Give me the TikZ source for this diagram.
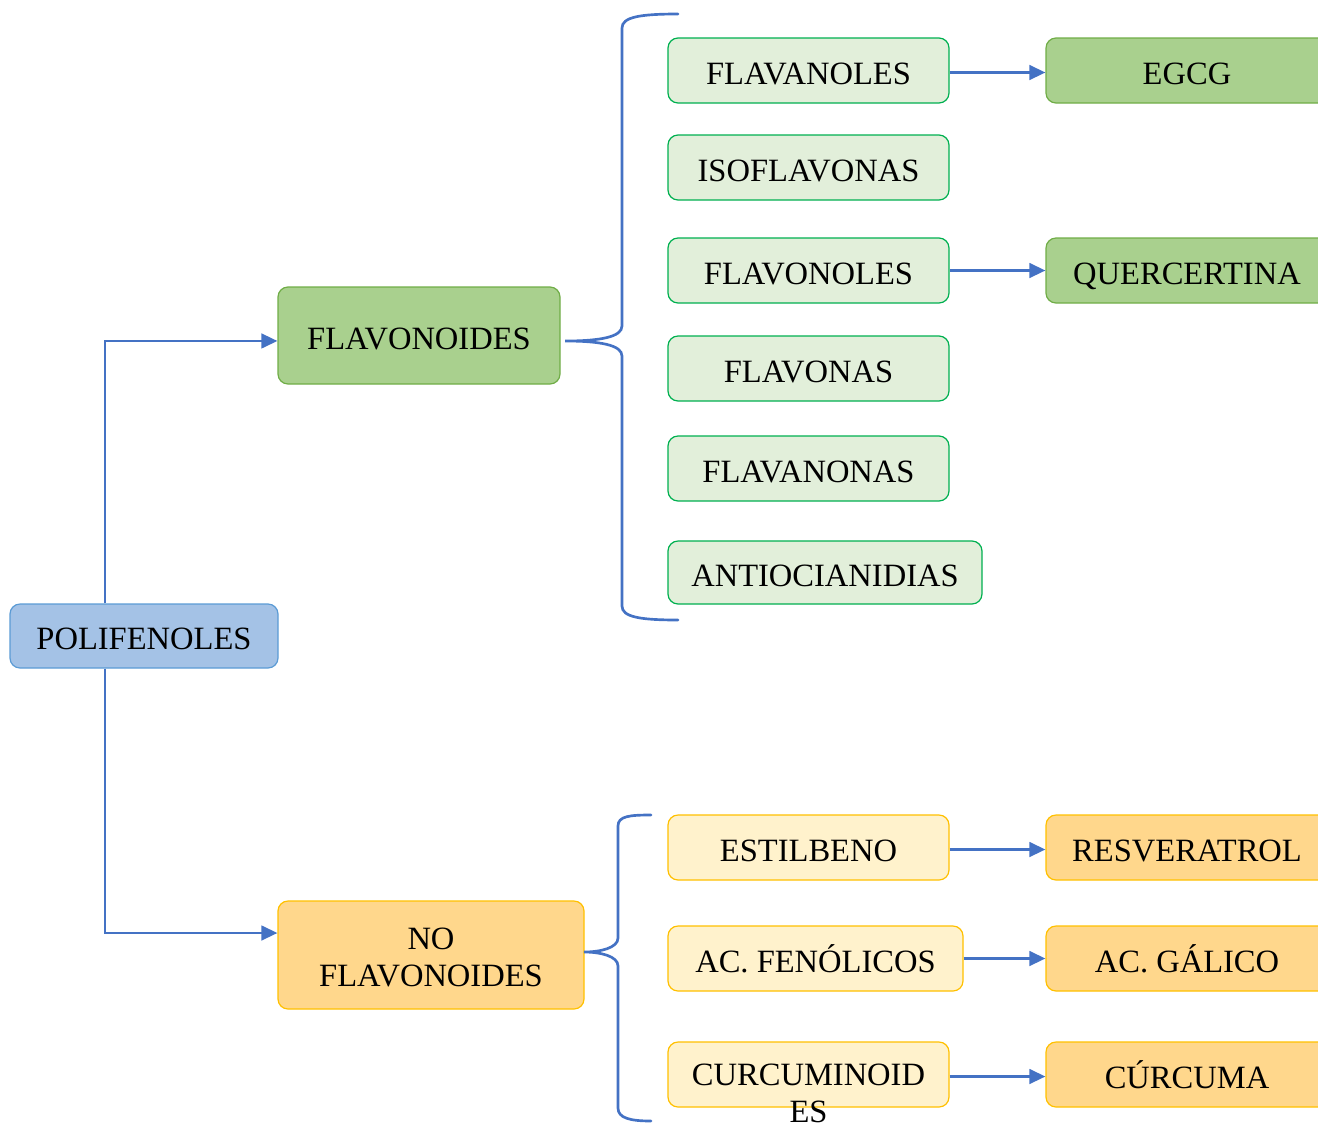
\documentclass[tikz,border=0pt]{standalone}
\usepackage{fontspec}
\setmainfont{Liberation Serif}
\usetikzlibrary{arrows.meta,calc}
\definecolor{blueline}{RGB}{68,114,196}
\definecolor{polifill}{RGB}{164,194,230}
\definecolor{polidraw}{RGB}{91,155,213}
\definecolor{dgfill}{RGB}{169,208,142}
\definecolor{dgdraw}{RGB}{112,173,71}
\definecolor{lgfill}{RGB}{226,239,218}
\definecolor{lgdraw}{RGB}{0,176,80}
\definecolor{lyfill}{RGB}{255,242,204}
\definecolor{ydraw}{RGB}{255,192,0}
\definecolor{orfill}{RGB}{255,215,140}
\begin{document}
\begin{tikzpicture}[x=0.75pt,y=-0.75pt,
  font=\fontsize{24.4}{27.75}\selectfont,
  box/.style={rounded corners=7.5pt, line width=0.9pt, inner sep=0pt, align=center},
  one/.style={text height=20.6pt, text depth=0pt},
  sz/.style 2 args={minimum width=#1*0.75pt, minimum height=#2*0.75pt},
  poli/.style={box, one, fill=polifill, draw=polidraw},
  dgbox/.style={box, fill=dgfill, draw=dgdraw},
  lgbox/.style={box, one, fill=lgfill, draw=lgdraw},
  lybox/.style={box, fill=lyfill, draw=ydraw},
  orbox/.style={box, fill=orfill, draw=ydraw},
  conn/.style={draw=blueline, line width=1.8pt},
  arr/.style={conn, -{Triangle[length=12pt,width=11pt]}},
  brace/.style={draw=blueline, line width=2pt, line cap=round}]
\useasboundingbox (0,0) rectangle (1318,1122);
\clip (0,0) rectangle (1318,1122);

% main nodes
\node[poli, sz={268}{64}] (poli) at (144,636) {POLIFENOLES};
\node[dgbox, one, sz={282}{97}] (flav) at (419,335.5) {FLAVONOIDES};
\node[orbox, sz={306}{108}] (noflav) at (431,955) {};
\node[align=center, inner sep=0pt, anchor=north] (noflavtxt) at (431,928) {NO\\FLAVONOIDES};

% flavonoid subclasses
\node[lgbox, sz={281}{65}] (flavanoles) at (808.5,70.5) {FLAVANOLES};
\node[lgbox, sz={281}{65}] (isofl) at (808.5,167.5) {ISOFLAVONAS};
\node[lgbox, sz={281}{65}] (flavonoles) at (808.5,270.5) {FLAVONOLES};
\node[lgbox, sz={281}{65}] (flavonas) at (808.5,368.5) {FLAVONAS};
\node[lgbox, sz={281}{65}] (flavanonas) at (808.5,468.5) {FLAVANONAS};
\node[lgbox, sz={314}{63}] (antio) at (825,572.5) {ANTIOCIANIDIAS};

\node[dgbox, one, sz={282}{65}] (egcg) at (1187,70.5) {EGCG};
\node[dgbox, one, sz={282}{65}] (quer) at (1187,270.5) {QUERCERTINA};

% non-flavonoid subclasses
\node[lybox, one, sz={281}{65}] (estil) at (808.5,847.5) {ESTILBENO};
\node[lybox, sz={295}{65}] (acfen) at (815.5,958.5) {};
\node[inner sep=0pt, anchor=base] (acfentxt) at (815.5,972) {AC. FENÓLICOS};
\node[lybox, sz={281}{65}] (curcum) at (808.5,1074.5) {};
\node[align=center, inner sep=0pt, anchor=north] (curtxt) at (808.5,1063.5) {CURCUMINOID\\ES};

\node[orbox, one, sz={282}{65}] (resv) at (1187,847.5) {RESVERATROL};
\node[orbox, sz={282}{65}] (acgal) at (1187,958.5) {};
\node[inner sep=0pt, anchor=base] (acgaltxt) at (1187,972) {AC. GÁLICO};
\node[orbox, sz={282}{65}] (curcuma) at (1187,1074.5) {};
\node[inner sep=0pt, anchor=base] (curcumatxt) at (1187,1088) {CÚRCUMA};

% connectors from POLIFENOLES
\draw[arr] ([xshift=-29.25pt]poli.north) |- ([yshift=-4.1pt]flav.west);
\draw[arr] ([xshift=-29.25pt]poli.south) |- ([yshift=16.5pt]noflav.west);

% arrows to examples
\draw[arr] ([yshift=-1.5pt]flavanoles.east) -- ([yshift=-1.5pt]flavanoles.east -| egcg.west);
\draw[arr] (flavonoles.east) -- (flavonoles.east -| quer.west);
\draw[arr] ([yshift=-1.5pt]estil.east) -- ([yshift=-1.5pt]estil.east -| resv.west);
\draw[arr] (acfen.east) -- (acfen.east -| acgal.west);
\draw[arr] ([yshift=-1.5pt]curcum.east) -- ([yshift=-1.5pt]curcum.east -| curcuma.west);

% top brace
\coordinate (tb1) at (678,14);
\coordinate (tbtip) at (565,341);
\coordinate (tb2) at (678,620);
\draw[brace] (tb1) .. controls (640,14) and (622,17) .. (622,28) -- (622,326)
  .. controls (622,337) and (600,341) .. (tbtip)
  .. controls (600,341) and (622,345) .. (622,356) -- (622,606)
  .. controls (622,617) and (640,620) .. (tb2);

% bottom brace
\coordinate (bb1) at (651,815);
\coordinate (bbtip) at (584,952);
\coordinate (bb2) at (651,1121);
\draw[brace] (bb1) .. controls (630,815) and (618,816) .. (618,826) -- (618,938)
  .. controls (618,948) and (600,952) .. (bbtip)
  .. controls (600,952) and (618,956) .. (618,966) -- (618,1108)
  .. controls (618,1118) and (630,1121) .. (bb2);
\end{tikzpicture}
\end{document}
